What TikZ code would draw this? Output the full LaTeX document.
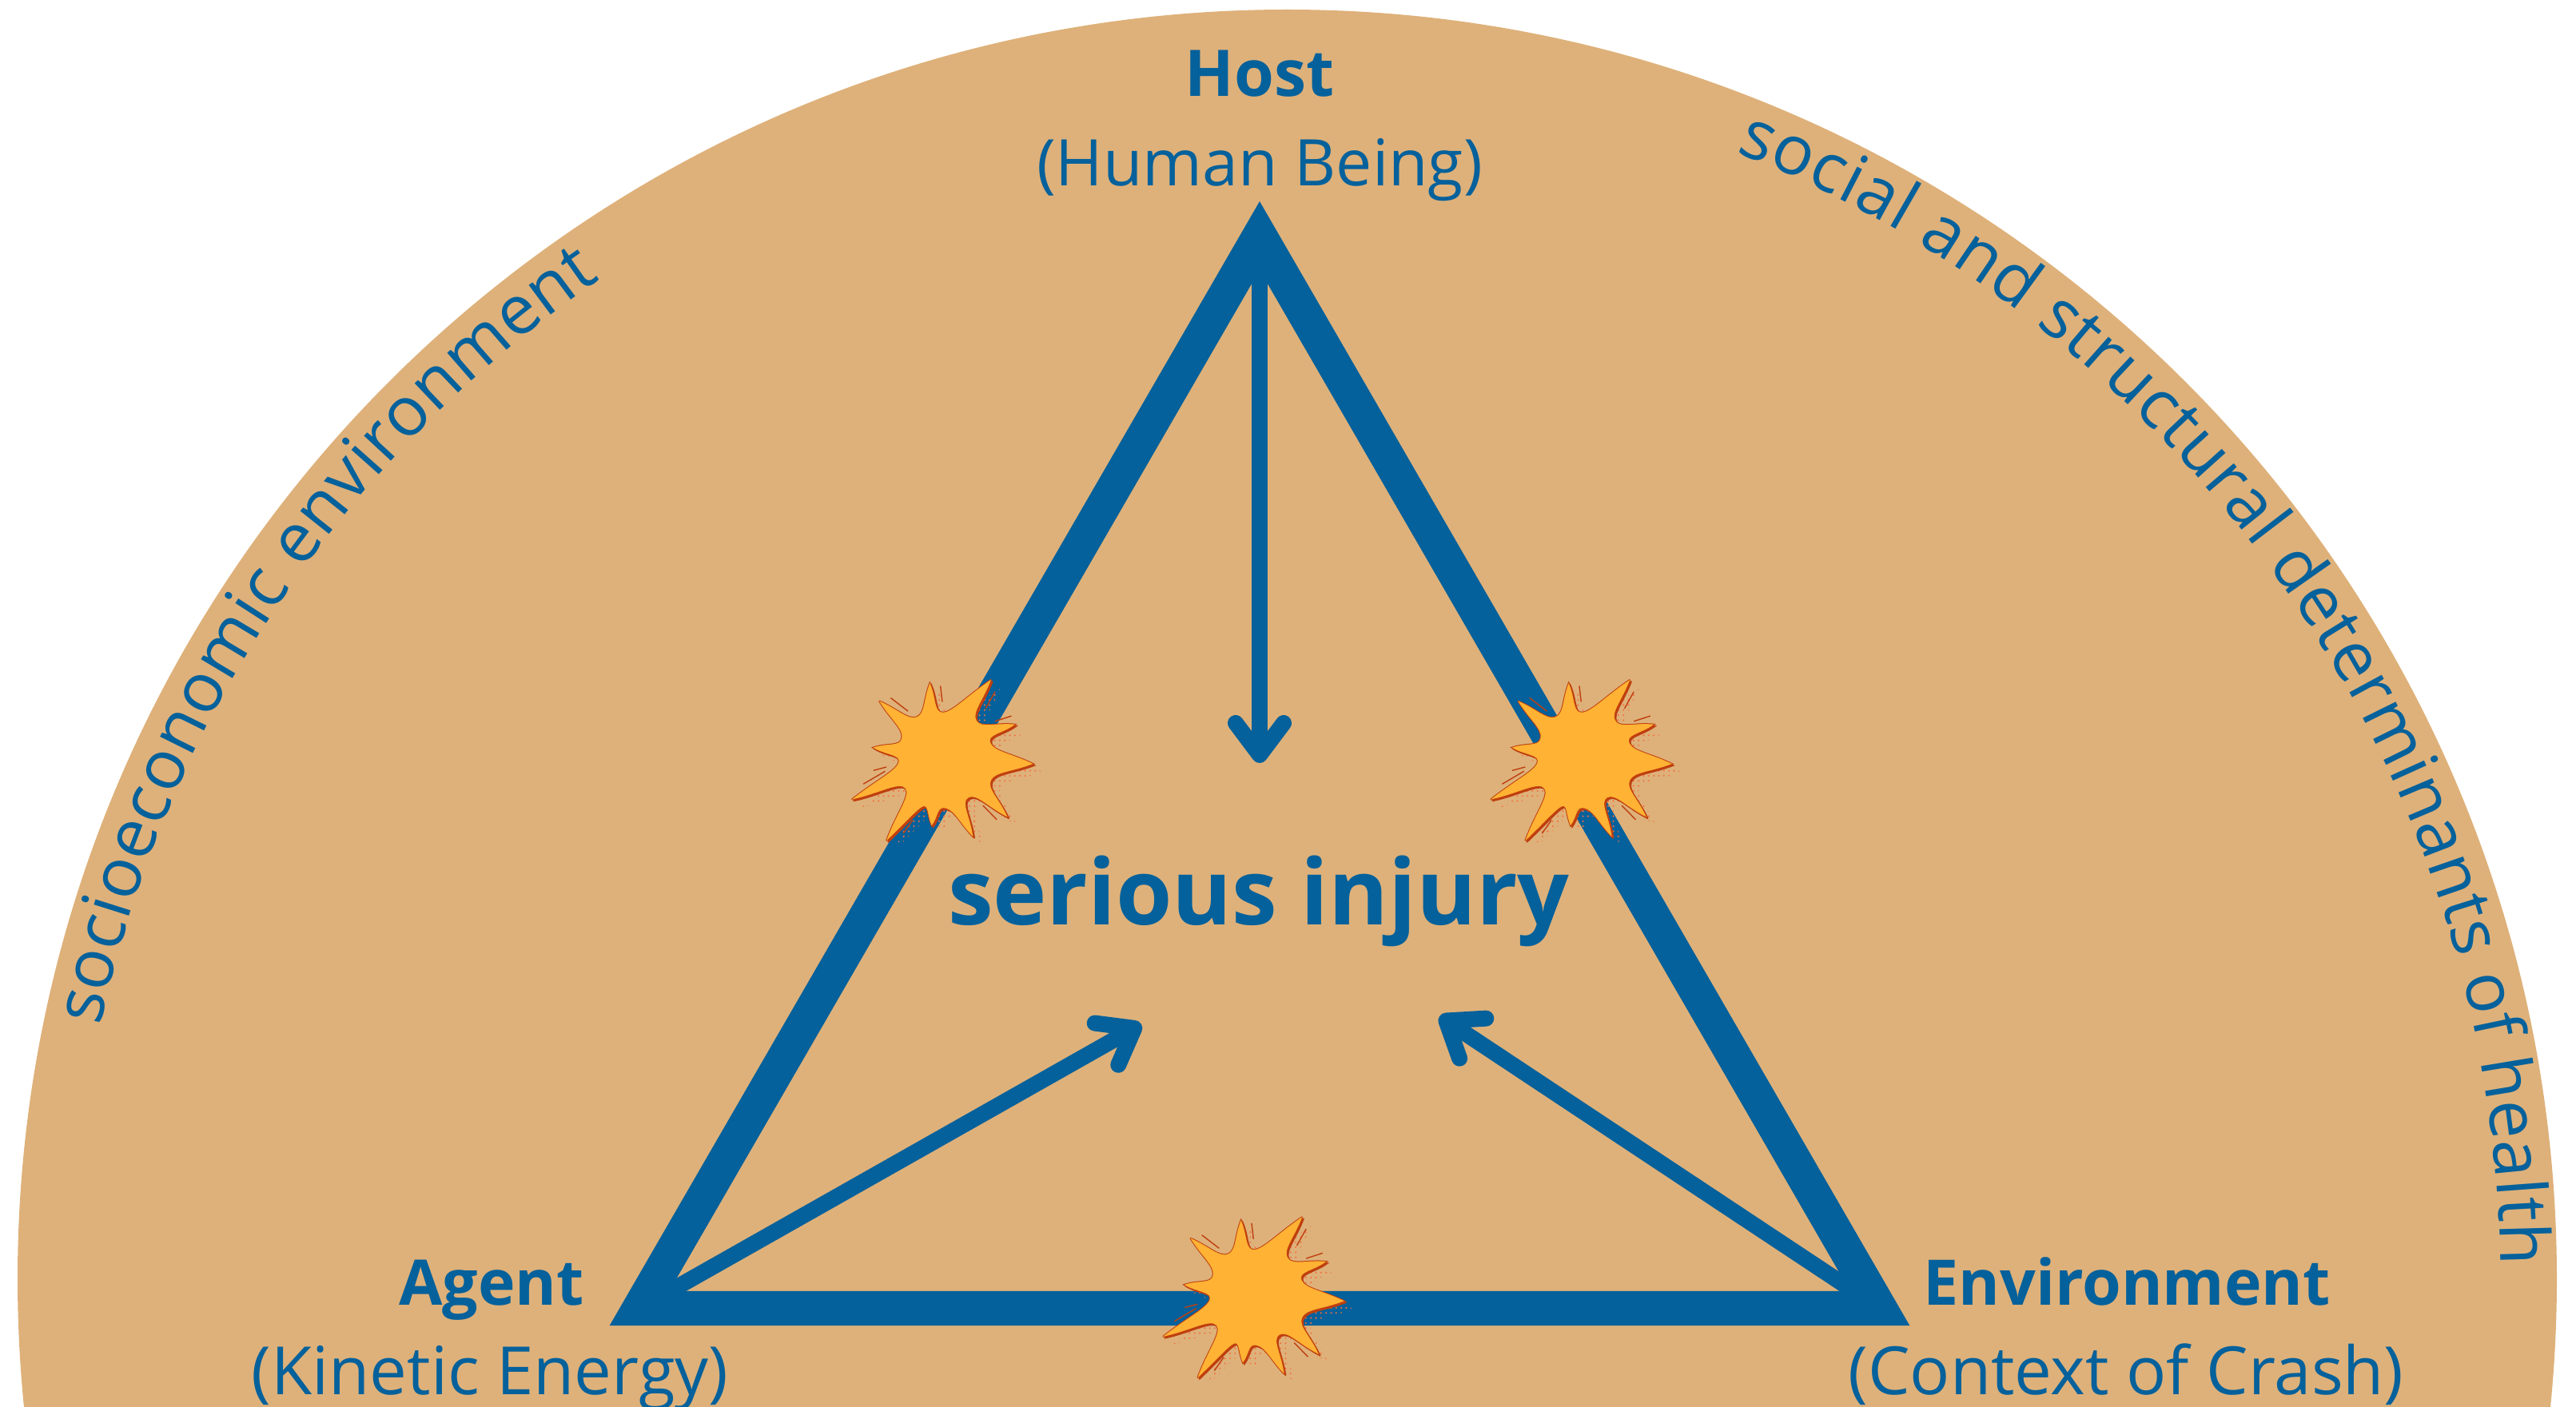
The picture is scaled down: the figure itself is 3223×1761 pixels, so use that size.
\documentclass[tikz,border=0pt]{standalone}
\usepackage{fontspec}
\setmainfont{Open Sans}
\usetikzlibrary{arrows.meta,decorations.text}
\definecolor{hemitan}{HTML}{DEB17A}
\definecolor{triblue}{HTML}{05619B}
\definecolor{burstfill}{HTML}{FFB233}
\definecolor{burstedge}{HTML}{BF3F0F}
\definecolor{burstdot}{HTML}{F47040}
\newcommand{\burstpath}{(490,225)
  .. controls (515,280) and (505,337) .. (540,335) .. controls (575,333) and (630,273) .. (720,212)
  .. controls (692,288) and (648,334) .. (665,365) .. controls (682,396) and (738,372) .. (810,380)
  .. controls (764,415) and (703,418) .. (718,450) .. controls (733,482) and (798,489) .. (878,528)
  .. controls (799,559) and (735,558) .. (720,590) .. controls (705,622) and (751,659) .. (782,728)
  .. controls (708,691) and (665,638) .. (635,655) .. controls (605,672) and (643,728) .. (652,802)
  .. controls (601,748) and (584,704) .. (550,695) .. controls (516,686) and (523,727) .. (497,760)
  .. controls (481,724) and (485,681) .. (465,688) .. controls (445,695) and (396,752) .. (327,817)
  .. controls (362,718) and (420,647) .. (398,620) .. controls (376,593) and (297,641) .. (197,662)
  .. controls (284,593) and (359,557) .. (372,525) .. controls (385,493) and (324,496) .. (277,467)
  .. controls (331,448) and (380,465) .. (385,430) .. controls (390,395) and (342,361) .. (300,292)
  .. controls (370,322) and (407,364) .. (440,352) .. controls (473,340) and (465,288) .. (490,225) -- cycle}
\tikzset{
  headtext/.style={font=\fontsize{#1}{26}\selectfont\bfseries,text=triblue,anchor=base,inner sep=0pt},
  subtext/.style={font=\fontsize{#1}{26}\selectfont,text=triblue,anchor=base,inner sep=0pt},
  arrowline/.style={draw=triblue,line width=0.2cm,-{Straight Barb[round,length=0.4cm,width=0.6cm]}},
  arctext/.style={decorate,decoration={text along path,text color=triblue,text align=fit to path,text={|\fontsize{24.4}{28}\selectfont|#1}}},
  burst/.pic={
    \begin{scope}[x=0.0033333cm,y=-0.0033333cm,shift={(-510,-510)}]
      \begin{scope}
        \clip[shift={(35,30)}] \burstpath;
        \fill[burstdot] \foreach \x in {240,259,...,920} {\foreach \y in {250,269,...,830} {(\x,\y) circle[radius=3.5]}};
      \end{scope}
      \foreach \ax/\ay/\bx/\by in {343/280/408/330,530/235/537/295,735/257/700/320,797/348/735/368,327/540/278/553,322/556/240/604,690/685/742/738,425/740/390/790}
        \draw[burstedge,line width=0.014cm] (\ax,\ay) -- (\bx,\by);
      \draw[burstedge,fill=burstedge,line width=0.015cm,miter limit=3,shift={(6,6)}] \burstpath;
      \draw[burstedge,fill=burstfill,line width=0.02cm,miter limit=3] \burstpath;
      \fill[burstfill] \burstpath;
    \end{scope}
  }
}
\begin{document}
\begin{tikzpicture}[x=0.01cm,y=0.01cm]
\useasboundingbox (0,0) rectangle (3223,-1761);
\fill[white] (0,0) rectangle (3223,-1761);
\begin{scope}
\clip (0,0) rectangle (3223,-1761);
\fill[hemitan] (1610.5,-1600.5) circle[radius=1588.5];
\end{scope}
\coordinate (host) at (1576,-295);
\coordinate (agent) at (800,-1637.5);
\coordinate (env) at (2352,-1637.5);
\coordinate (hosthead) at (1576,-955);
\coordinate (agenthead) at (1428,-1282);
\coordinate (envhead) at (1801,-1272);
\draw[triblue,line width=0.43cm,line join=miter] (agent) -- (host) -- (env) -- cycle;
\draw[arrowline] (host) -- (hosthead);
\draw[arrowline] (agent) -- (agenthead);
\draw[arrowline] (env) -- (envhead);
\pic at (1170,-950) {burst};
\pic at (1969.3,-950) {burst};
\pic at (1559.3,-1622.3) {burst};
\node[headtext=22.9] (hostname) at (1576,-121) {Host};
\node[subtext=22.9] (hostsub) at (1576,-233) {(Human Being)};
\node[headtext=22.4] (agentname) at (615,-1633) {Agent};
\node[subtext=23.7] (agentsub) at (613,-1745) {(Kinetic Energy)};
\node[headtext=22.4] (envname) at (2661,-1633) {Environment};
\node[subtext=23.7] (envsub) at (2660,-1745) {(Context of Crash)};
\node[headtext=32.4] (injury) at (1575,-1157) {serious injury};
\path[arctext={socioeconomic environment}] ({1610.5+1518*cos(168)},{-1600.5+1518*sin(168)}) arc[start angle=168,end angle=124.5,radius=1518];
\path[arctext={social and structural determinants of health}] ({1610.5+1518*cos(68.3)},{-1600.5+1518*sin(68.3)}) arc[start angle=68.3,end angle=0.7,radius=1518];
\end{tikzpicture}
\end{document}
